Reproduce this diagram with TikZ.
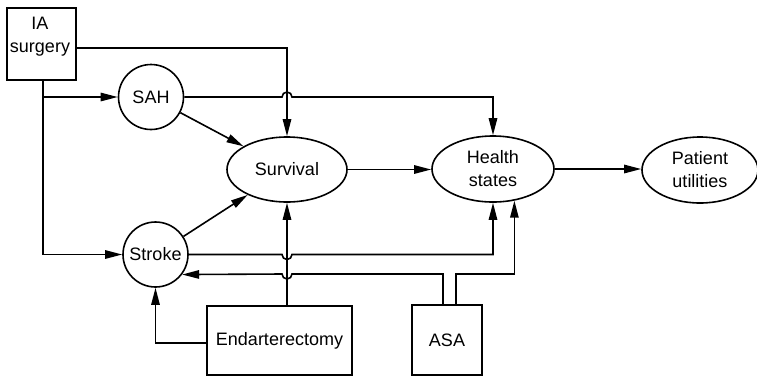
\documentclass[tikz,border=0pt]{standalone}
\usepackage{fontspec}
\setmainfont{Liberation Sans}
\usetikzlibrary{arrows.meta,calc,shapes.geometric}
\begin{document}
\begin{tikzpicture}[x=0.5pt,y=-0.5pt,
  every node/.style={font=\fontsize{9}{11.5}\selectfont, line width=0.8pt, inner sep=0pt},
  boxnode/.style={draw, rectangle},
  circ/.style={draw, circle, minimum size=32.5pt},
  ell/.style={draw, ellipse, minimum width=60pt, minimum height=32.5pt, align=center},
  arr/.style={-{Triangle[length=8.5pt,width=4.2pt]}},
  line width=0.8pt]
\useasboundingbox (0,0) rectangle (757,377);
\node[boxnode, minimum width=34.5pt, minimum height=36pt] (ia) at (41.5,44) {};
\node[align=center] (ialbl) at (40,37) {IA\\surgery};
\node[circ] (sah) at (151,97) {SAH};
\node[circ] (stroke) at (155.5,254.5) {Stroke};
\node[ell] (surv) at (287,169.5) {Survival};
\node[ell, minimum width=61pt, minimum height=33pt] (health) at (493,169) {Health\\states};
\node[ell, minimum width=58pt, minimum height=33pt] (pat) at (700,170) {Patient\\utilities};
\node[boxnode, minimum width=72.5pt, minimum height=34.5pt] (endo) at (279.5,340.5) {Endarterectomy};
\node[boxnode, minimum size=35pt] (asa) at (447,340) {ASA};

% IA surgery connectors
\draw[arr] ([yshift=-2pt]ia.east) -| (surv.north);
\coordinate (iaj) at (43,97);
\draw[arr] (ia.south -| iaj) |- (stroke.west);
\draw[arr] (iaj) -- (sah.west);
% SAH
\draw[arr] (sah.east) -- ($(sah.east -| surv.north)+(-5,0)$) arc[start angle=180,end angle=0,radius=2.5pt] -| (health.north);
\draw[arr] (sah) -- (surv);
% Stroke
\draw[arr] (stroke) -- (surv);
\draw[arr] (stroke.east) -- ($(stroke.east -| surv.south)+(-5,0)$) arc[start angle=180,end angle=360,radius=2.5pt] -| (health.south);
% main chain
\draw[arr] (surv.east) -- (surv.east -| health.west);
\draw[arr] (health.east) -- (health.east -| pat.west);
% Endarterectomy
\draw[arr] (endo.north -| surv.south) -- (surv.south);
\draw[arr] ([yshift=-1.25pt]endo.west) -| (stroke.south);
% ASA
\coordinate (asaL) at ($(asa.north)+(-4,0)$);
\coordinate (asaR) at ($(asa.north)+(9,0)$);
\coordinate (lowrow) at (0,274);
\draw[arr] (asaL) |- ($(lowrow -| surv.south)+(5,0)$) arc[start angle=0,end angle=-180,radius=2.5pt] -- (stroke.-37);
\draw[arr] (asaR) |- (lowrow -| health.-56) -- (health.-56);
\end{tikzpicture}
\end{document}
